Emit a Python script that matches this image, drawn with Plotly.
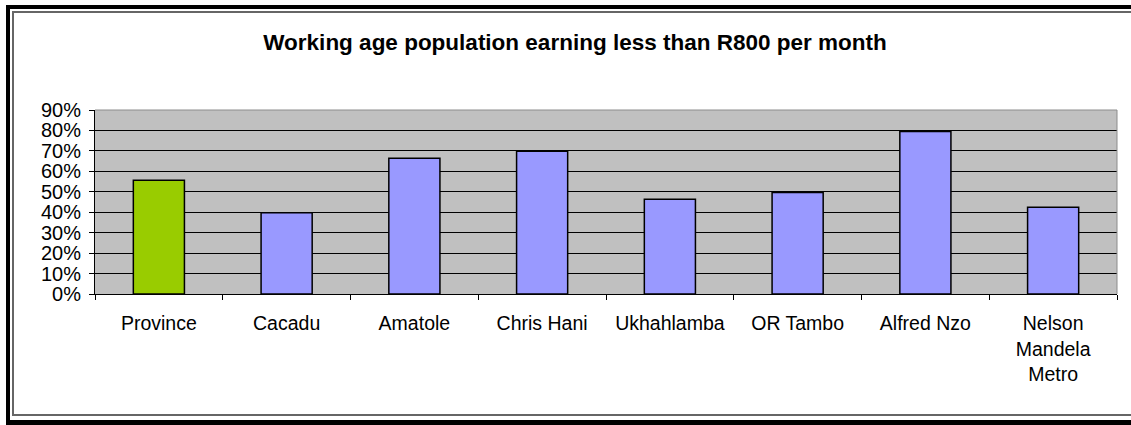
import plotly.graph_objects as go

categories = ["Province", "Cacadu", "Amatole", "Chris Hani", "Ukhahlamba",
              "OR Tambo", "Alfred Nzo", "Nelson<br>Mandela<br>Metro"]
values = [0.556, 0.398, 0.664, 0.698, 0.463, 0.497, 0.795, 0.424]
bar_colors = ["#99CC00", "#9999FF", "#9999FF", "#9999FF", "#9999FF",
              "#9999FF", "#9999FF", "#9999FF"]
title_text = "Working age population earning less than R800 per month"

W, H = 1131, 425
L, R, T, B = 95, 1117, 110, 294


def px(x):
    return (x - L) / (R - L)


def py(y):
    return (B - y) / (B - T)


fig = go.Figure(go.Bar(
    x=categories, y=values,
    marker=dict(color=bar_colors, line=dict(color="black", width=1.5)),
    width=0.4,
))

shapes = [
    # plot area top/right border (gray)
    dict(type="line", xref="paper", yref="paper", x0=0, x1=1, y0=1, y1=1,
         line=dict(color="#8c8c8c", width=1)),
    dict(type="line", xref="paper", yref="paper", x0=1, x1=1, y0=0, y1=1,
         line=dict(color="#8c8c8c", width=1)),
    # outer frame black
    dict(type="line", xref="paper", yref="paper", x0=px(8), x1=px(8), y0=py(5), y1=py(425),
         line=dict(color="black", width=4)),
    dict(type="line", xref="paper", yref="paper", x0=px(6), x1=px(1131), y0=py(7), y1=py(7),
         line=dict(color="black", width=4)),
    dict(type="line", xref="paper", yref="paper", x0=px(6), x1=px(1131), y0=py(422.5), y1=py(422.5),
         line=dict(color="black", width=5)),
    # inner frame gray
    dict(type="line", xref="paper", yref="paper", x0=px(13), x1=px(13), y0=py(12), y1=py(415),
         line=dict(color="#666666", width=2)),
    dict(type="line", xref="paper", yref="paper", x0=px(12), x1=px(1131), y0=py(12), y1=py(12),
         line=dict(color="#666666", width=2)),
    dict(type="line", xref="paper", yref="paper", x0=px(12), x1=px(1131), y0=py(415), y1=py(415),
         line=dict(color="#666666", width=2)),
]

fig.update_layout(
    width=W, height=H,
    margin=dict(l=L, r=W - R, t=T, b=H - B, pad=0),
    paper_bgcolor="white",
    plot_bgcolor="#C0C0C0",
    font=dict(family="Liberation Sans, Arial, sans-serif", color="black", size=19),
    title=dict(text="<b>" + title_text + "</b>", x=575 / W, xanchor="center",
               y=1 - 42 / H, yanchor="middle",
               font=dict(size=22.5, family="Liberation Sans, Arial, sans-serif", color="black")),
    showlegend=False,
    bargap=0.6,
    shapes=shapes,
    xaxis=dict(
        type="category", showline=True, linecolor="black", linewidth=1,
        ticks="outside", tickson="boundaries", ticklen=5, tickcolor="black",
        tickwidth=1, showgrid=False, ticklabelstandoff=12,
        tickfont=dict(size=19.5),
    ),
    yaxis=dict(
        range=[0, 0.9], dtick=0.1, tickformat=".0%",
        showline=True, linecolor="black", linewidth=1,
        ticks="outside", ticklen=5, tickcolor="black", tickwidth=1,
        showgrid=True, gridcolor="black", gridwidth=1.3,
        zeroline=False, tickfont=dict(size=20), ticklabelstandoff=4,
    ),
)

fig.write_html("out.html")
